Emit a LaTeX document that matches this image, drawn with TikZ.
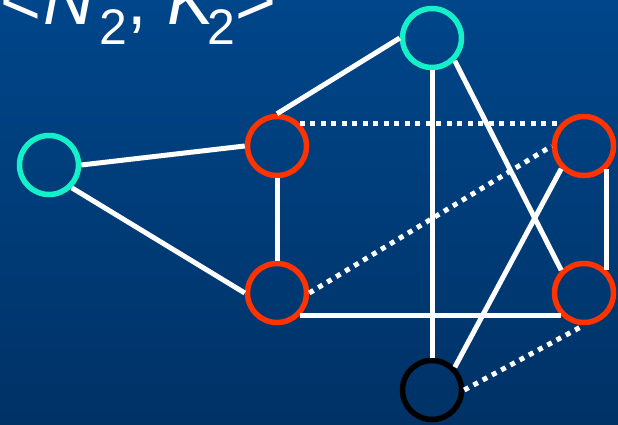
\documentclass[tikz,border=0pt]{standalone}
\usepackage{fontspec}
\setmainfont{Liberation Sans}
\definecolor{bgtop}{RGB}{0,70,138}
\definecolor{bgbot}{RGB}{0,50,102}
\definecolor{cyanring}{RGB}{20,240,200}
\definecolor{redring}{RGB}{255,51,0}
\newcommand{\subtwo}{\raisebox{-20pt}{\fontsize{50}{50}\selectfont 2}}
\tikzset{
  vert/.style={circle, draw, line width=5.5pt, minimum size=59pt, inner sep=0pt},
  cyanv/.style={vert, draw=cyanring},
  redv/.style={vert, draw=redring},
  blackv/.style={vert, draw=black},
  edge/.style={draw=white, line width=5pt},
  dotedge/.style={draw=white, line width=5pt, dash pattern=on 5pt off 5.5pt},
}
\begin{document}
\begin{tikzpicture}[x=1pt, y=-1pt]
\useasboundingbox (0,0) rectangle (618,424);
\clip (0,0) rectangle (618,424);
\fill[top color=bgtop, bottom color=bgbot] (0,0) rectangle (618,424);
\node[anchor=base west, inner sep=0pt, text=white] (title) at (0,24)
  {\fontsize{70}{70}\selectfont\makebox[43pt][l]{<}\makebox[56pt][l]{\textit{N}}\makebox[28pt][l]{\subtwo}\makebox[40pt][l]{,}\makebox[40pt][l]{\textit{K}}\makebox[28pt][l]{\subtwo}>};
\node[cyanv] (tc) at (432,38) {};
\node[cyanv] (lc) at (49,165) {};
\node[redv] (rtl) at (277,146) {};
\node[redv] (rbl) at (277,293) {};
\node[redv] (rtr) at (584,146) {};
\node[redv] (rbr) at (584,293) {};
\node[blackv] (blk) at (432,390) {};
\draw[edge] (lc.east) -- (rtl.west);
\draw[edge] (lc.south east) -- (rbl.west);
\draw[edge] (tc.west) -- (rtl.north);
\draw[edge] (rtl.south) -- (rbl.north);
\draw[dotedge] (rtl.north east) -- (rtr.north west);
\draw[dotedge] (rbl.east) -- (rtr.west);
\draw[edge] (rbl.south east) -- (rbr.south west);
\draw[edge] (tc.south) -- (blk.north);
\draw[edge] (tc.south east) -- (rbr.north west);
\draw[edge] (rtr.south west) -- (blk.north east);
\draw[edge] (rtr.south east) -- (rbr.north east);
\draw[dotedge] (blk.east) -- (rbr.south);
\end{tikzpicture}
\end{document}
